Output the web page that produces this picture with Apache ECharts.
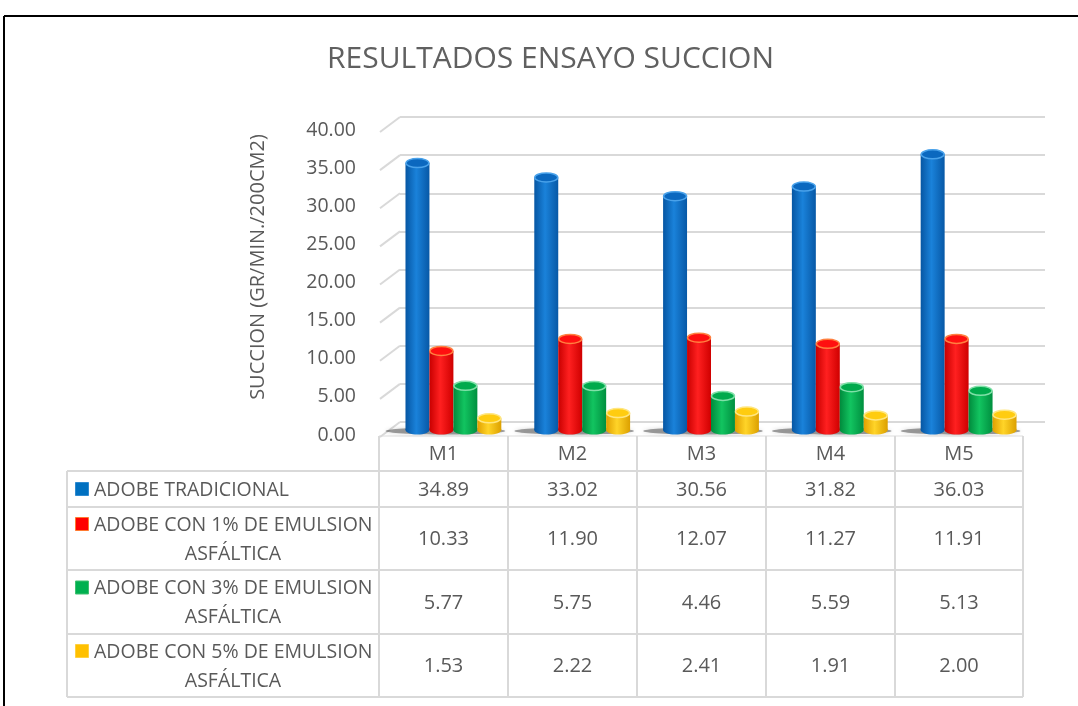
<!DOCTYPE html>
<html>
<head>
<meta charset="utf-8">
<script src="https://cdn.jsdelivr.net/npm/echarts@6/dist/echarts.min.js"></script>
<style>
html,body{margin:0;padding:0;background:#fff;}
#main{width:1078px;height:706px;}
</style>
</head>
<body>
<div id="main"></div>
<script>
// ---------- DATA ----------
const categories = ['M1', 'M2', 'M3', 'M4', 'M5'];
const seriesNames = [
  'ADOBE TRADICIONAL',
  'ADOBE CON 1% DE EMULSION ASFÁLTICA',
  'ADOBE CON 3% DE EMULSION ASFÁLTICA',
  'ADOBE CON 5% DE EMULSION ASFÁLTICA'
];
const labelLines = [
  ['ADOBE TRADICIONAL'],
  ['ADOBE CON 1% DE EMULSION', 'ASFÁLTICA'],
  ['ADOBE CON 3% DE EMULSION', 'ASFÁLTICA'],
  ['ADOBE CON 5% DE EMULSION', 'ASFÁLTICA']
];
const adobeTradicional = [34.89, 33.02, 30.56, 31.82, 36.03];
const adobe1 = [10.33, 11.90, 12.07, 11.27, 11.91];
const adobe3 = [5.77, 5.75, 4.46, 5.59, 5.13];
const adobe5 = [1.53, 2.22, 2.41, 1.91, 2.00];
const yTicks = [0, 5, 10, 15, 20, 25, 30, 35, 40];
const titleText = 'RESULTADOS ENSAYO SUCCION';
const yAxisName = 'SUCCION (GR/MIN./200CM2)';

const allSeries = [adobeTradicional, adobe1, adobe3, adobe5];

// ---------- STYLES ----------
const palette = [
  {key: '#0070C0', keyStroke: '#2f8ad0', left: '#0656a3', mid: '#1a82da', right: '#0758a6', top: '#0b68bf', rim: '#4aa2ea'},
  {key: '#FF0000', keyStroke: '#ff7a30', left: '#c80000', mid: '#ff2020', right: '#cf0000', top: '#ff1010', rim: '#ff8040'},
  {key: '#00B050', keyStroke: '#40c070', left: '#008a3c', mid: '#12c460', right: '#008f3f', top: '#00aa4c', rim: '#80e0a8'},
  {key: '#FFC000', keyStroke: '#ffd040', left: '#e0a000', mid: '#ffd428', right: '#dca000', top: '#ffcc10', rim: '#ffe680'}
];
const textColor = '#595959';
const lineColor = '#d9d9d9';
const FONT = '"Open Sans", sans-serif';

// table geometry
const colEdges = [379, 508, 637, 766, 895, 1023];
const tableLeft = 67;
const headerTop = 436;
const rowEdges = [471, 507, 570, 634, 697];

const chart = echarts.init(document.getElementById('main'), null, {renderer: 'canvas'});

function cylinderRender(si) {
  const c = palette[si];
  return function (params, api) {
    const cat = api.value(0), v = api.value(1);
    const base = api.coord([cat, 0]);
    const top = api.coord([cat, v]);
    const cw = api.size([1, 0])[0];
    const w = cw * 0.186;
    const xc = base[0] + (si - 1.5) * w;
    const ry = 4.5;
    const grad = new echarts.graphic.LinearGradient(0, 0, 1, 0, [
      {offset: 0, color: c.left},
      {offset: 0.45, color: c.mid},
      {offset: 1, color: c.right}
    ]);
    return {
      type: 'group',
      children: [
        {type: 'ellipse', shape: {cx: xc, cy: base[1], rx: w / 2, ry: ry}, style: {fill: grad}},
        {type: 'rect', shape: {x: xc - w / 2, y: top[1], width: w, height: base[1] - top[1]}, style: {fill: grad}},
        {type: 'ellipse', shape: {cx: xc, cy: top[1], rx: w / 2 - 0.5, ry: ry}, style: {fill: c.top, stroke: c.rim, lineWidth: 1.5}}
      ]
    };
  };
}

function shadowRender(params, api) {
  const cat = api.value(0);
  const base = api.coord([cat, 0]);
  const cw = api.size([1, 0])[0];
  const w = cw * 0.186;
  return {
    type: 'ellipse',
    shape: {cx: base[0] - 8, cy: base[1] + 1, rx: w * 2.5, ry: 3.5},
    style: {fill: 'rgba(70,70,70,0.5)', shadowBlur: 4, shadowColor: 'rgba(0,0,0,0.3)'}
  };
}

// left wall slant lines at each tick
function slantRender(params, api) {
  const v = api.value(0);
  const p = api.coord([0, v]);
  return {
    type: 'line',
    shape: {x1: p[0], y1: p[1], x2: p[0] - 20, y2: p[1] + 15},
    style: {stroke: lineColor, lineWidth: 2}
  };
}

// ---------- TABLE GRAPHICS ----------
const graphics = [];
graphics.push({type: 'line', shape: {x1: 4, y1: 16, x2: 1078, y2: 16}, style: {stroke: '#000', lineWidth: 2}, silent: true});
graphics.push({type: 'line', shape: {x1: 4, y1: 16, x2: 4, y2: 706}, style: {stroke: '#000', lineWidth: 2}, silent: true});
graphics.push({type: 'line', shape: {x1: colEdges[0], y1: headerTop, x2: colEdges[colEdges.length - 1], y2: headerTop}, style: {stroke: '#eeeeee', lineWidth: 2}, silent: true});
rowEdges.forEach(function (y) {
  graphics.push({type: 'line', shape: {x1: tableLeft, y1: y, x2: colEdges[colEdges.length - 1], y2: y}, style: {stroke: lineColor, lineWidth: 2}, silent: true});
});
graphics.push({type: 'line', shape: {x1: tableLeft, y1: rowEdges[0], x2: tableLeft, y2: rowEdges[rowEdges.length - 1]}, style: {stroke: lineColor, lineWidth: 2}, silent: true});
colEdges.forEach(function (x) {
  graphics.push({type: 'line', shape: {x1: x, y1: headerTop, x2: x, y2: rowEdges[rowEdges.length - 1]}, style: {stroke: lineColor, lineWidth: 2}, silent: true});
});
graphics.push({type: 'text', x: 258, y: 267, rotation: Math.PI / 2,
  style: {text: yAxisName, fill: textColor, font: '20px ' + FONT, textAlign: 'center', textVerticalAlign: 'middle'}, silent: true});
categories.forEach(function (cat, i) {
  graphics.push({type: 'text', x: (colEdges[i] + colEdges[i + 1]) / 2, y: (headerTop + rowEdges[0]) / 2 + 1,
    style: {text: cat, fill: textColor, font: '20px ' + FONT, textAlign: 'center', textVerticalAlign: 'middle'}, silent: true});
});
allSeries.forEach(function (vals, r) {
  const yTop = rowEdges[r], yBot = rowEdges[r + 1];
  const yc = (yTop + yBot) / 2;
  const lines = labelLines[r];
  const c = palette[r];
  if (lines.length === 1) {
    graphics.push({type: 'rect', shape: {x: 75.5, y: yc - 6.5, width: 13, height: 13}, style: {fill: c.key, stroke: c.keyStroke, lineWidth: 1}, silent: true});
    graphics.push({type: 'text', x: 94, y: yc + 1, style: {text: lines[0], fill: textColor, font: '19.5px ' + FONT, textAlign: 'left', textVerticalAlign: 'middle'}, silent: true});
  } else {
    const y1 = yc - 14.5, y2 = yc + 14.5;
    graphics.push({type: 'rect', shape: {x: 75.5, y: y1 - 6.5, width: 13, height: 13}, style: {fill: c.key, stroke: c.keyStroke, lineWidth: 1}, silent: true});
    graphics.push({type: 'text', x: 94, y: y1 + 1, style: {text: lines[0], fill: textColor, font: '19.5px ' + FONT, textAlign: 'left', textVerticalAlign: 'middle'}, silent: true});
    graphics.push({type: 'text', x: 233, y: y2 + 1, style: {text: lines[1], fill: textColor, font: '19.5px ' + FONT, textAlign: 'center', textVerticalAlign: 'middle'}, silent: true});
  }
  vals.forEach(function (v, i) {
    graphics.push({type: 'text', x: (colEdges[i] + colEdges[i + 1]) / 2, y: yc + 1,
      style: {text: v.toFixed(2), fill: textColor, font: '20px ' + FONT, textAlign: 'center', textVerticalAlign: 'middle'}, silent: true});
  });
});

const catIdx = categories.map(function (c, i) { return i; });

const series = [];
series.push({
  type: 'custom', xAxisIndex: 0, yAxisIndex: 0, renderItem: slantRender, silent: true, z: 1,
  data: yTicks.map(function (t) { return [t]; }), encode: {x: -1, y: 0}
});
series.push({
  type: 'custom', xAxisIndex: 1, yAxisIndex: 1, renderItem: shadowRender, silent: true, z: 2,
  data: catIdx.map(function (i) { return [i, 0]; })
});
allSeries.forEach(function (vals, si) {
  series.push({
    type: 'custom', name: seriesNames[si], xAxisIndex: 1, yAxisIndex: 1, z: 3,
    renderItem: cylinderRender(si),
    data: vals.map(function (v, i) { return [i, v]; }),
    encode: {x: 0, y: 1}
  });
});

const option = {
  animation: false,
  backgroundColor: '#ffffff',
  title: {
    text: titleText, left: 322, top: 39,
    textStyle: {color: '#606060', fontSize: 30, fontWeight: 'normal', fontFamily: FONT}
  },
  grid: [
    {left: 400, right: 33, top: 117, bottom: 284},
    {left: 389, right: 45, top: 124, bottom: 276},
    {left: 363, right: 600, top: 130, bottom: 271}
  ],
  xAxis: [
    {gridIndex: 0, type: 'value', min: 0, max: 1, show: false},
    {gridIndex: 1, type: 'category', data: categories, show: false},
    {gridIndex: 2, type: 'value', min: 0, max: 1, show: false}
  ],
  yAxis: [
    {gridIndex: 0, type: 'value', min: 0, max: 40, interval: 5,
      axisLine: {show: false}, axisTick: {show: false}, axisLabel: {show: false},
      splitLine: {show: true, lineStyle: {color: lineColor, width: 2}}},
    {gridIndex: 1, type: 'value', min: 0, max: 40, interval: 5, show: false},
    {gridIndex: 2, type: 'value', min: 0, max: 40, interval: 5,
      axisLine: {show: false}, axisTick: {show: false}, splitLine: {show: false},
      axisLabel: {color: textColor, fontSize: 19.5, fontFamily: FONT, margin: 7,
        formatter: function (v) { return v.toFixed(2); }}}
  ],
  graphic: graphics,
  series: series
};
chart.setOption(option);
</script>
</body>
</html>
